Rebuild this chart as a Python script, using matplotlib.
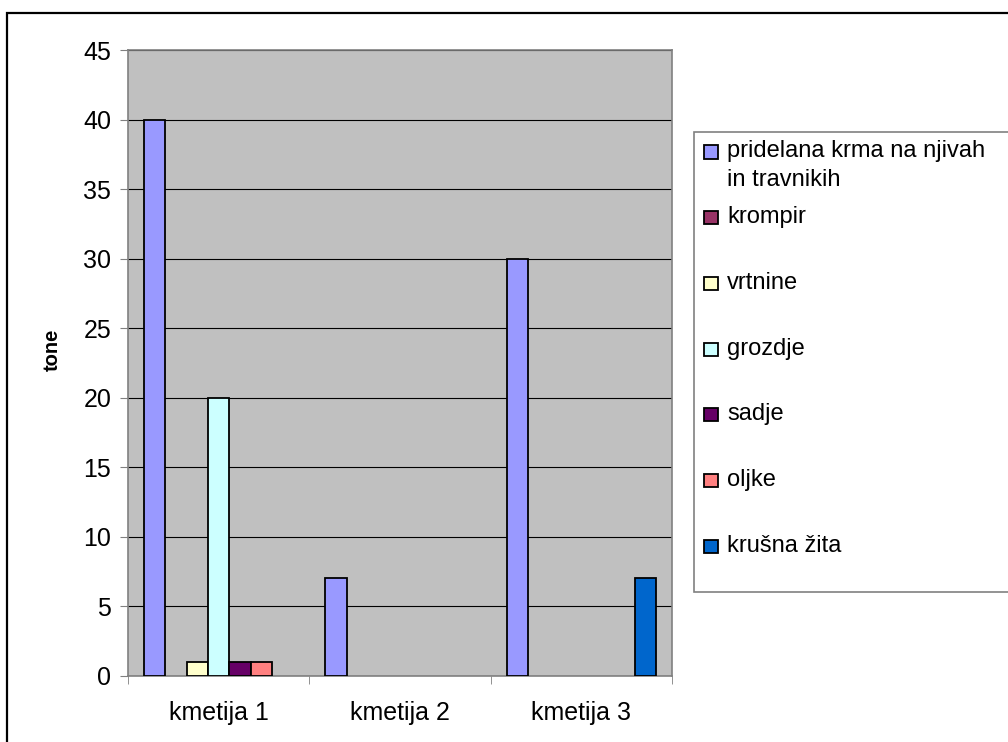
import numpy as np
import matplotlib.pyplot as plt
from matplotlib.patches import Rectangle

plt.rcParams['font.family'] = ['Liberation Sans', 'DejaVu Sans']

categories = ['kmetija 1', 'kmetija 2', 'kmetija 3']
series = ['pridelana krma na njivah\nin travnikih', 'krompir', 'vrtnine',
          'grozdje', 'sadje', 'oljke', 'krušna žita']
values = [
    [40, 7, 30],   # pridelana krma
    [0, 0, 0],     # krompir
    [1, 0, 0],     # vrtnine
    [20, 0, 0],    # grozdje
    [1, 0, 0],     # sadje
    [1, 0, 0],     # oljke
    [0, 0, 7],     # krušna žita
]
colors = ['#9999FF', '#993366', '#FFFFCC', '#CCFFFF', '#660066', '#FF8080', '#0066CC']
yticks = [0, 5, 10, 15, 20, 25, 30, 35, 40, 45]

W, H = 1008, 742
fig = plt.figure(figsize=(W / 100, H / 100), dpi=100)
ax = fig.add_axes([128 / W, 1 - 675.6 / H, (672 - 128) / W, (675.6 - 50) / H])
ax.set_facecolor('#C0C0C0')

# outer chart frame, cut off on right and bottom like the source
fig.patches.append(Rectangle((7 / W, -0.1), 1.2, 1.1 - 13 / H,
                             transform=fig.transFigure, fill=False,
                             edgecolor='black', linewidth=1.6))

x = np.arange(len(categories))
width = 1 / 8.5
for i, (vals, c) in enumerate(zip(values, colors)):
    vals = np.array(vals, dtype=float)
    pos = x + (i - 3) * width
    keep = vals > 0
    ax.bar(pos[keep], vals[keep], width, color=c, edgecolor='black', linewidth=1.3, zorder=3)

ax.set_xlim(-0.5, 2.5)
ax.set_ylim(0, 45)
ax.set_yticks(yticks)
ax.set_xticks(x)
ax.set_xticklabels(categories)
ax.set_xticks([-0.5, 0.5, 1.5, 2.5], minor=True)
ax.tick_params(axis='x', which='major', length=0, pad=18, labelsize=18)
ax.tick_params(axis='x', which='minor', length=6, direction='out', color='#808080')
ax.tick_params(axis='y', length=6, direction='out', color='#808080', labelsize=18, pad=6)
ax.yaxis.grid(True, color='black', linewidth=0.8, zorder=0)
ax.set_axisbelow(True)
for s in ax.spines.values():
    s.set_color('#808080')
    s.set_linewidth(1.2)

ax.set_ylabel('tone', fontsize=14.5, fontweight='bold')
ax.yaxis.set_label_coords(-0.122, 0.52)

# legend box (Excel style, runs off the right edge)
fig.patches.append(Rectangle((694 / W, 1 - 592 / H), 1.0, (592 - 132) / H,
                             transform=fig.transFigure, facecolor='white',
                             edgecolor='#808080', linewidth=1.2))
step = 65.7
for i, (name, c) in enumerate(zip(series, colors)):
    yc = 152 + i * step
    fig.patches.append(Rectangle((704 / W, 1 - (yc + 6.5) / H), 14 / W, 13 / H,
                                 transform=fig.transFigure, facecolor=c,
                                 edgecolor='black', linewidth=1.3))
    for k, line in enumerate(name.split('\n')):
        fig.text(727 / W, 1 - (yc + 5.5 + k * 28) / H, line, fontsize=17,
                 ha='left', va='baseline', transform=fig.transFigure)

fig.savefig('out.png', dpi=100)
